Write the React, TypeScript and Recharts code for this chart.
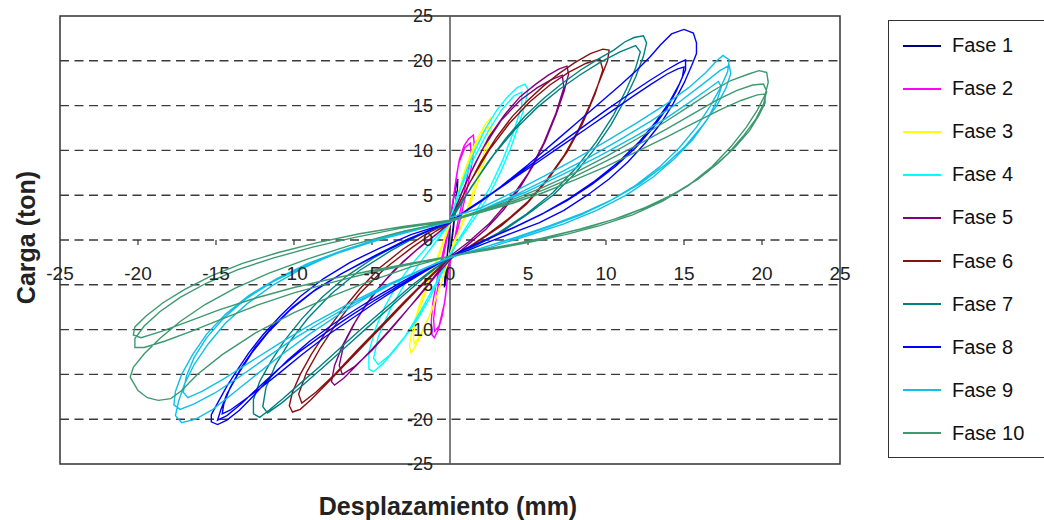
import {
  LineChart,
  Line,
  XAxis,
  YAxis,
  ReferenceLine,
  ReferenceArea,
  ReferenceDot,
  Legend,
} from 'recharts';

type Pt = [number, number];

// hysteresis loops (displacement mm, load ton)
const fase1: Pt[] = [
  [0, 1.6], [0.1, 3.2], [0.25, 4.9], [0.4, 6.2], [0.5, 6.8], [0.47, 5.6], [0.36, 3.6], [0.22, 1.3],
  [0.06, -0.9], [-0.1, -2.8], [-0.25, -4.3], [-0.36, -5.3], [-0.32, -3.9], [-0.2, -2], [-0.08, 0], [0, 1.6],
  [0.12, 3.4], [0.3, 5.4], [0.42, 5.3], [0.28, 2.6], [0.08, -0.4], [-0.14, -3], [-0.3, -4.7], [-0.26, -3.1],
  [-0.1, -0.6], [0, 1.5],
];

const fase2: Pt[] = [
  [0, 2], [0.2, 4.5], [0.4, 7], [0.6, 9], [0.9, 10.5], [1.2, 11.3], [1.5, 11.7], [1.55, 10.8], [1.45, 9],
  [1.25, 7], [1.0, 5], [0.75, 3], [0.5, 1.2], [0.25, -0.5], [0, -2], [-0.15, -4], [-0.3, -6.5], [-0.5, -8.5],
  [-0.75, -10], [-1.0, -10.9], [-1.15, -10.6], [-1.2, -9], [-1.1, -7], [-0.9, -5], [-0.65, -3], [-0.4, -1],
  [-0.15, 0.8], [0, 2],
  [0.25, 5], [0.55, 8.5], [0.95, 10.3], [1.3, 10.8], [1.35, 9.8], [1.15, 7.5], [0.85, 4.8], [0.5, 2],
  [0.2, -0.8], [-0.1, -3.5], [-0.35, -7], [-0.7, -9.6], [-1.0, -10.2], [-1.05, -8.8], [-0.85, -6], [-0.5, -2.5],
  [-0.15, 0.5], [0, 1.8],
];

const fase3: Pt[] = [
  [0, 2], [0.4, 4.5], [0.8, 7], [1.3, 9.5], [1.8, 11.5], [2.3, 13], [2.6, 13.6], [2.7, 12.8], [2.5, 11],
  [2.2, 8.8], [1.8, 6.5], [1.3, 4], [0.8, 1.8], [0.3, 0], [0, -1.5], [-0.4, -4], [-0.9, -6.5], [-1.4, -8.8],
  [-1.9, -10.8], [-2.3, -12.1], [-2.5, -12.6], [-2.6, -11.8], [-2.4, -9.8], [-2.0, -7.5], [-1.5, -5],
  [-1.0, -2.8], [-0.5, -0.5], [0, 2],
  [0.5, 5], [1.1, 8.2], [1.7, 10.8], [2.2, 12.3], [2.45, 12.6], [2.4, 11.2], [2.0, 8.5], [1.4, 5], [0.8, 2],
  [0.2, -0.8], [-0.5, -4.5], [-1.2, -8], [-1.9, -10.6], [-2.3, -11.6], [-2.35, -10.5], [-2.0, -8], [-1.4, -5],
  [-0.7, -1.8], [0, 1.8],
];

const fase4: Pt[] = [
  [0, 2.3], [0.5, 5], [1.0, 7.5], [1.6, 10], [2.3, 12.5], [3.0, 14.5], [3.7, 16], [4.3, 17], [4.8, 17.4],
  [5.0, 16.8], [4.8, 15], [4.4, 12.8], [3.9, 10.3], [3.3, 7.8], [2.6, 5.3], [1.8, 3], [1.0, 1], [0.4, -0.5],
  [0, -1.8], [-0.6, -4], [-1.3, -6.5], [-2.0, -8.6], [-2.8, -10.6], [-3.6, -12.4], [-4.3, -13.8], [-4.9, -14.7],
  [-5.2, -14.4], [-5.2, -12.5], [-4.8, -10], [-4.2, -7.5], [-3.4, -5], [-2.5, -2.8], [-1.5, -0.8], [-0.6, 0.8],
  [0, 2],
  [0.7, 5.8], [1.5, 9], [2.4, 12], [3.3, 14.5], [4.1, 16.1], [4.6, 16.5], [4.6, 15], [4.1, 12.2], [3.4, 9],
  [2.6, 6], [1.6, 3], [0.7, 0.5], [0, -1.6], [-0.9, -4.8], [-1.9, -8], [-2.9, -10.8], [-3.9, -12.9],
  [-4.6, -13.9], [-4.9, -13.2], [-4.6, -10.8], [-3.8, -7.6], [-2.8, -4.6], [-1.6, -1.8], [-0.6, 0.5], [0, 1.9],
];

const fase5: Pt[] = [
  [0, 2], [0.8, 5.5], [1.6, 8.5], [2.5, 11.5], [3.5, 14], [4.5, 16], [5.5, 17.4], [6.3, 18.4], [7.0, 19.1],
  [7.5, 19.4], [7.6, 18.5], [7.3, 16.5], [6.8, 14], [6.1, 11], [5.3, 8.2], [4.4, 5.6], [3.4, 3.3], [2.3, 1.2],
  [1.1, -0.6], [0, -2.2], [-1.0, -4.2], [-2.0, -6.3], [-3.0, -8.3], [-4.0, -10.3], [-5.0, -12.2], [-6.0, -14],
  [-6.8, -15.4], [-7.4, -16.2], [-7.6, -15.8], [-7.4, -14], [-6.9, -11.8], [-6.2, -9.5], [-5.3, -7],
  [-4.2, -4.6], [-3.0, -2.4], [-1.8, -0.6], [-0.7, 0.9], [0, 2],
  [1.0, 6.3], [2.1, 10.2], [3.3, 13.4], [4.5, 15.6], [5.6, 17], [6.5, 17.9], [7.2, 18.4], [7.3, 17],
  [6.8, 14.2], [6.0, 10.8], [5.0, 7.4], [3.8, 4.4], [2.5, 1.8], [1.2, -0.2], [0, -1.8], [-1.2, -4.5],
  [-2.5, -7.3], [-3.8, -10], [-5.0, -12.3], [-6.1, -14.1], [-6.9, -15], [-7.1, -14], [-6.8, -11.6],
  [-6.0, -8.9], [-4.9, -6], [-3.6, -3.4], [-2.2, -1.2], [-0.9, 0.6], [0, 1.9],
];

const fase6: Pt[] = [
  [0, 2.2], [1, 5.5], [2, 8.8], [3, 11.5], [4, 13.8], [5, 15.6], [6, 17.2], [7, 18.6], [8, 19.8], [9, 20.8],
  [9.8, 21.3], [10.2, 21.2], [10.1, 20], [9.6, 17.8], [9, 15.2], [8.2, 12.2], [7.3, 9.4], [6.2, 6.7], [5, 4.3],
  [3.7, 2.3], [2.3, 0.5], [1, -1], [0, -2], [-1, -3.7], [-2, -5.4], [-3, -7.2], [-4, -9], [-5, -10.8],
  [-6, -12.6], [-7, -14.4], [-8, -16.2], [-8.9, -17.8], [-9.6, -18.9], [-10.1, -19.2], [-10.3, -18.5],
  [-10.1, -17], [-9.6, -15], [-8.9, -12.8], [-8, -10.4], [-7, -8], [-5.8, -5.5], [-4.5, -3.1], [-3, -1],
  [-1.5, 0.7], [0, 2],
  [1.2, 6.2], [2.5, 10], [3.8, 13], [5.1, 15.4], [6.4, 17.3], [7.6, 18.7], [8.7, 19.7], [9.6, 20.2],
  [9.8, 19], [9.3, 16.3], [8.5, 13], [7.5, 9.8], [6.3, 6.8], [4.9, 4], [3.3, 1.6], [1.6, -0.4], [0, -1.9],
  [-1.5, -4.4], [-3, -7], [-4.5, -9.7], [-6, -12.4], [-7.4, -15], [-8.6, -17], [-9.5, -18.2], [-9.7, -17.2],
  [-9.2, -14.8], [-8.3, -12], [-7.2, -9.1], [-5.8, -6], [-4.2, -3.2], [-2.4, -0.8], [-0.9, 1], [0, 1.9],
];

const fase7: Pt[] = [
  [0, 2.4], [1.2, 5.4], [2.4, 8.6], [3.6, 11.4], [4.8, 13.8], [6, 15.8], [7.2, 17.5], [8.4, 19], [9.6, 20.3],
  [10.5, 21.2], [11.2, 22.1], [11.8, 22.6], [12.4, 22.8], [12.6, 22], [12.4, 20.5], [11.9, 18.2],
  [11.2, 15.6], [10.3, 12.8], [9.2, 10], [8, 7.4], [6.6, 5], [5, 2.9], [3.4, 1], [1.7, -0.6], [0, -2],
  [-1.2, -3.4], [-2.4, -5], [-3.6, -6.8], [-4.8, -8.6], [-6, -10.4], [-7.2, -12.3], [-8.4, -14.2],
  [-9.6, -16], [-10.7, -17.7], [-11.6, -19], [-12.2, -19.8], [-12.6, -19.4], [-12.6, -17.8], [-12.2, -15.8],
  [-11.5, -13.6], [-10.6, -11.2], [-9.5, -8.8], [-8.2, -6.4], [-6.6, -4], [-4.8, -1.9], [-2.8, 0],
  [-1.2, 1.2], [0, 2],
  [1.4, 6], [2.8, 9.5], [4.2, 12.4], [5.6, 14.8], [7, 16.8], [8.4, 18.5], [9.7, 19.9], [10.9, 21],
  [11.9, 21.7], [12.2, 21], [11.9, 19.2], [11.3, 16.8], [10.5, 14], [9.4, 11], [8.1, 8.1], [6.6, 5.3],
  [4.9, 2.9], [3.1, 0.8], [1.4, -0.8], [0, -1.9], [-1.6, -4.1], [-3.2, -6.5], [-4.8, -9], [-6.4, -11.5],
  [-8, -14], [-9.5, -16.3], [-10.8, -18.2], [-11.7, -19.3], [-12, -18.6], [-11.8, -16.5], [-11.2, -14],
  [-10.3, -11.4], [-9.1, -8.7], [-7.6, -6], [-5.8, -3.4], [-3.7, -1.1], [-1.7, 0.8], [0, 1.9],
];

const fase8: Pt[] = [
  [0, 2], [1, 3.2], [2, 4.3], [3, 5.6], [4, 7], [5, 8.4], [6, 9.9], [7, 11.4], [8, 12.9], [9, 14.4],
  [10, 15.9], [11, 17.4], [12, 19], [12.8, 20.4], [13.5, 21.8], [14.2, 23], [15, 23.5], [15.6, 23.1],
  [15.8, 22], [15.8, 20.8], [15.5, 19.5], [15, 17.5], [14.3, 15.2], [13.5, 13], [12.5, 10.8], [11.4, 8.7],
  [10.2, 6.8], [8.8, 5], [7.3, 3.3], [5.7, 1.9], [4, 0.8], [2.2, -0.4], [0, -2],
  [-1.5, -3.2], [-3, -4.6], [-4.5, -6.1], [-6, -7.7], [-7.5, -9.4], [-9, -11.3], [-10.4, -13.4],
  [-11.6, -15.5], [-12.6, -17.4], [-13.5, -19], [-14.3, -20.1], [-14.9, -20.6], [-15.3, -20.3],
  [-15.3, -19.5], [-14.9, -18.2], [-14.3, -16.3], [-13.6, -14.4], [-12.9, -12.6], [-12, -10.6],
  [-10.9, -8.5], [-9.6, -6.3], [-8.1, -4.3], [-6.4, -2.5], [-4.5, -0.9], [-2.5, 0.6], [0, 2],
  [1.2, 3.5], [2.5, 5], [4, 6.9], [5.5, 8.8], [7, 10.7], [8.5, 12.6], [10, 14.5], [11.5, 16.3],
  [12.8, 17.8], [13.9, 19], [14.7, 19.8], [15.1, 20.1], [15.1, 19], [14.7, 17.4], [14.1, 15.5],
  [13.2, 13.2], [12.1, 10.9], [10.8, 8.7], [9.3, 6.6], [7.7, 4.7], [6, 3], [4.2, 1.5], [2.3, 0],
  [0.8, -1.2], [0, -1.9], [-1.6, -3.4], [-3.2, -5], [-4.8, -6.7], [-6.4, -8.5], [-8, -10.4], [-9.6, -12.4],
  [-11, -14.4], [-12.3, -16.5], [-13.4, -18.3], [-14.3, -19.6], [-14.9, -20.1], [-14.7, -19], [-14.3, -17.2],
  [-13.6, -15], [-12.7, -12.6], [-11.6, -10.2], [-10.3, -7.9], [-8.8, -5.8], [-7, -3.8], [-5, -1.9],
  [-2.8, 0], [-1, 1.3], [0, 1.9],
  [1.3, 3.6], [2.7, 5.2], [4.2, 7], [5.8, 8.9], [7.3, 10.7], [8.8, 12.5], [10.3, 14.3], [11.7, 16],
  [12.9, 17.4], [13.9, 18.5], [14.6, 19.1], [15, 19.3], [14.9, 18.2], [14.5, 16.6], [13.9, 14.7],
  [13, 12.5], [11.9, 10.3], [10.6, 8.2], [9.1, 6.2], [7.5, 4.4], [5.8, 2.8], [4, 1.3], [2.1, -0.1],
  [0.7, -1.2], [0, -1.9], [-1.6, -3.5], [-3.2, -5.2], [-4.8, -7], [-6.4, -8.9], [-8, -10.8], [-9.5, -12.8],
  [-10.9, -14.8], [-12.2, -16.6], [-13.3, -18], [-14.1, -19], [-14.6, -19.4], [-14.5, -18.3], [-14.1, -16.5],
  [-13.4, -14.3], [-12.5, -12], [-11.4, -9.7], [-10.1, -7.5], [-8.6, -5.5], [-6.8, -3.6], [-4.8, -1.8],
  [-2.7, 0], [-1, 1.3], [0, 1.9],
];

const fase9: Pt[] = [
  [0, 2.5], [2, 3.6], [4, 5.3], [6, 7.1], [8, 9], [10, 11], [12, 13.1], [13.8, 15.1], [15.3, 17], [16.4, 18.7],
  [17.1, 20], [17.5, 20.6], [17.9, 20.1], [17.8, 18.8], [17.4, 17.2], [16.7, 15], [15.8, 12.6], [14.7, 10.3],
  [13.4, 8.1], [11.9, 6.1], [10.2, 4.3], [8.4, 2.8], [6.4, 1.5], [4.3, 0.3], [2.2, -0.8], [0, -2],
  [-1.8, -3.3], [-3.6, -4.8], [-5.4, -6.5], [-7.2, -8.4], [-9, -10.5], [-10.8, -12.8], [-12.4, -15],
  [-13.9, -17.1], [-15.2, -18.9], [-16.3, -20], [-17.2, -20.4], [-17.6, -19.6], [-17.4, -18], [-17, -16],
  [-16.4, -13.9], [-15.5, -11.6], [-14.4, -9.3], [-13, -7.1], [-11.4, -5.1], [-9.6, -3.3], [-7.6, -1.7],
  [-5.4, -0.3], [-2.9, 1], [0, 2],
  [2.2, 3.5], [4.4, 5.2], [6.6, 7.1], [8.8, 9.1], [10.9, 11.2], [12.9, 13.3], [14.7, 15.4], [16.2, 17.4],
  [17.3, 18.9], [17.9, 19.5], [18, 18.6], [17.7, 17], [17.1, 15], [16.2, 12.8], [15.1, 10.5], [13.8, 8.4],
  [12.2, 6.3], [10.4, 4.5], [8.5, 3], [6.4, 1.6], [4.2, 0.3], [2, -0.9], [0, -1.9], [-2, -3.5], [-4, -5.1],
  [-6, -6.9], [-8, -8.9], [-10, -11], [-11.9, -13.3], [-13.6, -15.4], [-15.1, -17.1], [-16.4, -18.3],
  [-17.3, -18.9], [-17.7, -18.4], [-17.6, -16.9], [-17.2, -15], [-16.5, -12.8], [-15.6, -10.5],
  [-14.4, -8.3], [-12.9, -6.2], [-11.1, -4.3], [-9.1, -2.6], [-6.8, -1.1], [-4.3, 0.3], [-1.8, 1.4], [0, 2],
  [2.4, 3.6], [4.8, 5.3], [7.2, 7.3], [9.5, 9.3], [11.7, 11.4], [13.7, 13.4], [15.3, 15.3], [16.5, 16.8],
  [17.2, 17.7], [17.4, 17.1], [17.1, 15.5], [16.5, 13.5], [15.6, 11.3], [14.4, 9.1], [13, 7], [11.3, 5],
  [9.4, 3.3], [7.3, 1.8], [5, 0.5], [2.6, -0.8], [0, -1.9], [-2.2, -3.6], [-4.4, -5.3], [-6.6, -7.2],
  [-8.8, -9.3], [-10.9, -11.5], [-12.8, -13.6], [-14.5, -15.5], [-15.9, -16.9], [-16.8, -17.6],
  [-17.1, -17], [-16.9, -15.2], [-16.4, -13.1], [-15.6, -10.9], [-14.5, -8.7], [-13.1, -6.6],
  [-11.4, -4.7], [-9.4, -3], [-7.1, -1.4], [-4.6, 0], [-2, 1.2], [0, 2],
];

const fase10: Pt[] = [
  [0, 2.2], [2, 3.3], [4, 4.5], [6, 5.9], [8, 7.5], [10, 9.3], [12, 11.3], [13.8, 13.2], [15.4, 15],
  [16.8, 16.6], [18, 17.8], [19.1, 18.5], [19.8, 18.9], [20.3, 18.7], [20.4, 17.6], [20.2, 16.2],
  [19.7, 14.5], [19, 12.6], [18, 10.4], [16.8, 8.2], [15.3, 6.1], [13.6, 4.3], [11.7, 2.8], [9.6, 1.6],
  [7.4, 0.6], [5, -0.3], [2.5, -1.1], [0, -1.8], [-2.5, -2.6], [-5, -3.4], [-7.5, -4.3], [-10, -5.3],
  [-12.5, -6.5], [-14.8, -7.8], [-16.8, -9.1], [-18.5, -10.2], [-19.8, -10.9], [-20.3, -10.6],
  [-20.2, -9.7], [-19.5, -8.5], [-18.4, -7], [-17, -5.5], [-15.3, -4], [-13.3, -2.6], [-11, -1.4],
  [-8.5, -0.3], [-5.8, 0.7], [-3, 1.5], [0, 2.2],
  [2, 3.2], [4, 4.3], [6, 5.6], [8, 7.1], [10, 8.8], [12, 10.6], [13.9, 12.4], [15.6, 14.1], [17.1, 15.6],
  [18.4, 16.7], [19.4, 17.3], [20.1, 17.4], [20.3, 16.6], [20.1, 15.2], [19.6, 13.5], [18.8, 11.6],
  [17.8, 9.6], [16.5, 7.6], [15, 5.8], [13.2, 4.1], [11.2, 2.7], [9, 1.5], [6.7, 0.5], [4.3, -0.4],
  [2, -1.1], [0, -1.8], [-2.5, -2.7], [-5, -3.6], [-7.5, -4.7], [-10, -5.9], [-12.4, -7.3], [-14.6, -8.8],
  [-16.6, -10.2], [-18.3, -11.3], [-19.6, -12], [-20.2, -12], [-20.2, -11], [-19.6, -9.6], [-18.6, -8],
  [-17.3, -6.4], [-15.6, -4.8], [-13.6, -3.3], [-11.3, -2], [-8.8, -0.8], [-6.1, 0.3], [-3.2, 1.3], [0, 2.1],
  [2, 3.1], [4, 4.1], [6, 5.3], [8, 6.7], [10, 8.2], [12, 9.9], [14, 11.6], [15.8, 13.2], [17.4, 14.6],
  [18.7, 15.6], [19.7, 16.2], [20.2, 16.3], [20.2, 15.3], [19.8, 13.9], [19.2, 12.2], [18.3, 10.4],
  [17.2, 8.6], [15.9, 6.8], [14.3, 5.1], [12.5, 3.6], [10.5, 2.3], [8.3, 1.2], [5.9, 0.2], [3.4, -0.7],
  [1.2, -1.4], [0, -1.8], [-2.5, -3], [-5, -4.5], [-7.5, -6.2], [-10, -8.1], [-12.4, -10.3], [-14.6, -12.8],
  [-16.2, -15], [-17.2, -16.8], [-17.9, -17.7], [-18.7, -17.9], [-19.4, -17.6], [-20, -16.8], [-20.5, -15.3],
  [-20.3, -14.2], [-19.6, -12.7], [-18.6, -11], [-17.3, -9.1], [-15.7, -7.2], [-13.8, -5.4], [-11.6, -3.7],
  [-9.1, -2.1], [-6.4, -0.6], [-3.4, 0.8], [0, 2.1],
];

const phaseNames = ['Fase 1', 'Fase 2', 'Fase 3', 'Fase 4', 'Fase 5', 'Fase 6', 'Fase 7', 'Fase 8', 'Fase 9', 'Fase 10'];
const phaseData = [fase1, fase2, fase3, fase4, fase5, fase6, fase7, fase8, fase9, fase10];
const phaseColors = ['#000080', '#ff00ff', '#ffff00', '#00ffff', '#800080', '#8b1010', '#008080', '#0000ff', '#10c0e8', '#3d9970'];

const axisTicks = [-25, -20, -15, -10, -5, 0, 5, 10, 15, 20, 25];
const gridLevels = [-20, -15, -10, -5, 0, 5, 10, 15, 20];
const xTickMarks = [-20, -15, -10, -5, 5, 10, 15, 20];

const FONT = 'Arial, "Liberation Sans", sans-serif';

const LegendBox = ({ payload }: { payload?: { value: string; color: string }[] }) => {
  const items = [...(payload ?? [])].sort(
    (a, b) => phaseNames.indexOf(a.value) - phaseNames.indexOf(b.value),
  );
  return (
    <div
      style={{
        border: '1px solid #333',
        width: 160,
        height: 438,
        boxSizing: 'border-box',
        padding: '3px 0 0 14px',
        background: '#fff',
        fontFamily: FONT,
      }}
    >
      {items.map((entry) => (
        <div key={entry.value} style={{ display: 'flex', alignItems: 'center', height: 43.1 }}>
          <span style={{ display: 'inline-block', width: 38, borderTop: `2px solid ${entry.color}` }} />
          <span style={{ marginLeft: 11, fontSize: 20, color: '#111' }}>{entry.value}</span>
        </div>
      ))}
    </div>
  );
};

export default function App() {
  return (
    <div
      style={{
        position: 'absolute',
        left: 0,
        top: 0,
        width: 1044,
        height: 520,
        background: '#fff',
        fontFamily: FONT,
      }}
    >
      {/* the vertical legend reserves its own 160px on the right */}
      <LineChart width={1044} height={520} margin={{ top: 16, right: 44, bottom: 56, left: 60 }}>
        <XAxis type="number" dataKey="x" domain={[-25, 25]} ticks={axisTicks} hide allowDataOverflow />
        <YAxis type="number" domain={[-25, 25]} ticks={axisTicks} hide allowDataOverflow />
        <ReferenceArea x1={-25} x2={25} y1={-25} y2={25} fill="#fff" fillOpacity={0} stroke="#333" strokeWidth={1.5} />
        {gridLevels.map((v) => (
          <ReferenceLine key={`g${v}`} y={v} stroke="#3a3a3a" strokeWidth={1.4} strokeDasharray="9 5.5" />
        ))}
        <ReferenceLine x={0} stroke="#555" strokeWidth={1.5} />
        {xTickMarks.map((v) => (
          <ReferenceLine
            key={`t${v}`}
            segment={[{ x: v, y: 0 }, { x: v, y: -0.55 }]}
            stroke="#333"
            strokeWidth={1.2}
          />
        ))}
        {axisTicks.map((v) => (
          <ReferenceDot
            key={`xl${v}`}
            x={v}
            y={0}
            r={0}
            fill="none"
            stroke="none"
            label={{ value: String(v), position: 'bottom', offset: 27, fontSize: 19, fill: '#222', fontFamily: FONT }}
          />
        ))}
        {axisTicks.map((v) => (
          <ReferenceDot
            key={`yl${v}`}
            x={0}
            y={v}
            r={0}
            fill="none"
            stroke="none"
            label={{ value: String(v), position: 'left', offset: 17, fontSize: 18, fill: '#222', fontFamily: FONT }}
          />
        ))}
        {phaseData.map((pts, i) => (
          <Line
            key={phaseNames[i]}
            name={phaseNames[i]}
            data={pts.map(([x, y]) => ({ x, y }))}
            dataKey="y"
            type="linear"
            stroke={phaseColors[i]}
            strokeWidth={1.4}
            dot={false}
            activeDot={false}
            isAnimationActive={false}
          />
        ))}
        <Legend
          layout="vertical"
          verticalAlign="top"
          align="right"
          wrapperStyle={{ left: 888, top: 20, width: 160 }}
          content={(props: any) => <LegendBox payload={props.payload} />}
        />
      </LineChart>
      <div
        style={{
          position: 'absolute',
          left: 26 - 100,
          top: 237 - 12.5,
          width: 200,
          height: 25,
          lineHeight: '25px',
          textAlign: 'center',
          fontSize: 25,
          fontWeight: 'bold',
          color: '#222',
          transform: 'rotate(-90deg)',
        }}
      >
        Carga (ton)
      </div>
      <div
        style={{
          position: 'absolute',
          left: 448 - 200,
          top: 494,
          width: 400,
          lineHeight: 1,
          textAlign: 'center',
          fontSize: 25,
          fontWeight: 'bold',
          color: '#222',
        }}
      >
        Desplazamiento (mm)
      </div>
    </div>
  );
}
